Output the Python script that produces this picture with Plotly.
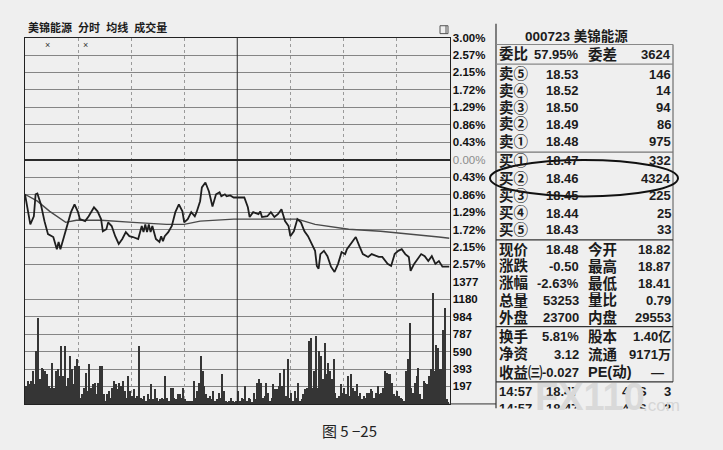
import plotly.graph_objects as go

W, H = 723, 450

# ---------------- data ----------------
HEADER = "美锦能源  分时  均线  成交量"

PRICE_MIN = [0, 3, 5, 6, 7, 9, 11, 13, 16, 18, 19, 20, 22, 24, 26, 28, 30, 31, 34, 36,
             39, 41, 43, 44, 46, 47, 49, 51, 53, 55, 57, 59, 61, 64, 66, 67, 68, 69, 70, 71,
             72, 74, 76, 77, 78, 79, 81, 83, 85, 87, 89, 90, 92, 94, 96, 97, 99, 100, 102, 104,
             106, 108, 110, 111, 113, 114, 116, 118, 120, 124, 126, 127, 129, 132, 133, 134, 137, 139, 141, 143,
             145, 147, 149, 150, 152, 154, 156, 158, 160, 162, 164, 165, 166, 167, 169, 171, 173, 175, 177, 179,
             181, 182, 184, 186, 187, 189, 191, 194, 196, 200, 202, 205, 207, 209, 211, 213, 215, 217, 218, 220,
             222, 224, 226, 228, 230, 232, 234, 236, 240]
PRICE_PCT = [-0.85, -1.59, -1.39, -0.85, -0.83, -1.10, -1.51, -1.83, -1.90, -2.20,
             -2.02, -2.20, -1.90, -1.59, -1.29, -1.10, -1.29, -1.46, -1.51, -1.39,
             -1.17, -1.27, -1.46, -1.76, -1.71, -1.54, -1.63, -1.88, -2.07, -1.95,
             -1.78, -1.88, -1.90, -1.95, -1.63, -1.78, -1.59, -1.78, -1.59, -1.78,
             -1.63, -1.95, -2.02, -1.88, -2.00, -1.88, -1.78, -1.63, -1.29, -1.10,
             -1.27, -1.54, -1.46, -1.29, -1.39, -1.29, -1.02, -0.68, -0.56, -0.78,
             -1.15, -0.85, -0.80, -0.90, -0.85, -0.90, -0.88, -0.93, -0.93, -0.93,
             -1.17, -1.41, -1.29, -1.34, -1.27, -1.41, -1.39, -1.29, -1.41, -1.34,
             -1.22, -1.51, -1.63, -1.88, -1.76, -1.46, -1.54, -1.76, -1.88, -2.07,
             -2.24, -2.61, -2.68, -2.32, -2.24, -2.37, -2.63, -2.76, -2.56, -2.27,
             -2.32, -2.20, -2.07, -1.95, -1.90, -2.12, -2.32, -2.39, -2.32, -2.39,
             -2.39, -2.56, -2.61, -2.32, -2.24, -2.20, -2.32, -2.39, -2.73, -2.56,
             -2.44, -2.32, -2.37, -2.49, -2.37, -2.56, -2.49, -2.63, -2.63]

AVG_MIN = [0, 7, 14, 23, 29, 43, 61, 80, 90, 99, 118, 127, 143, 154, 164, 183, 201, 220, 234, 240]
AVG_PCT = [-0.85, -1.02, -1.27, -1.54, -1.49, -1.49, -1.54, -1.59, -1.59, -1.51,
           -1.46, -1.46, -1.46, -1.46, -1.59, -1.71, -1.76, -1.83, -1.90, -1.93]

VOLUME = [
    205, 261, 224, 261, 373, 224, 597, 970, 280, 410,
    392, 373, 336, 205, 187, 466, 187, 373, 392, 317,
    653, 317, 653, 205, 298, 541, 392, 224, 429, 504,
    429, 75, 112, 187, 354, 149, 448, 187, 224, 242,
    112, 242, 429, 429, 112, 37, 112, 149, 75, 187,
    261, 224, 168, 242, 205, 261, 149, 75, 317, 149,
    93, 168, 75, 93, 653, 75, 56, 93, 37, 112,
    56, 224, 56, 168, 75, 37, 56, 75, 56, 317,
    75, 37, 187, 187, 75, 56, 112, 112, 75, 187,
    56, 37, 37, 37, 37, 261, 75, 149, 242, 541,
    373, 205, 112, 75, 93, 56, 149, 37, 56, 131,
    75, 336, 149, 37, 19, 37, 75, 37, 19, 37,
    149, 37, 75, 56, 205, 37, 75, 56, 19, 131,
    56, 242, 280, 242, 75, 93, 242, 131, 37, 75,
    224, 168, 168, 205, 354, 205, 392, 93, 504, 75,
    131, 37, 149, 75, 242, 37, 56, 112, 168, 187,
    709, 746, 187, 373, 765, 187, 597, 541, 280, 690,
    336, 466, 373, 280, 504, 131, 75, 93, 224, 131,
    187, 112, 317, 93, 336, 187, 149, 224, 93, 131,
    56, 93, 75, 131, 131, 168, 149, 75, 131, 205,
    112, 131, 187, 373, 354, 336, 336, 242, 112, 93,
    149, 93, 75, 56, 37, 373, 504, 914, 187, 131,
    242, 317, 410, 112, 56, 261, 242, 224, 317, 392,
    1250, 373, 671, 634, 392, 392, 840, 1080, 56, 19,
]
MINUTES = list(range(len(VOLUME)))

PCT_TICKS = [3.00, 2.57, 2.15, 1.72, 1.29, 0.86, 0.43, 0.00,
             -0.43, -0.86, -1.29, -1.72, -2.15, -2.57]
VOL_TICKS = [197, 393, 590, 787, 984, 1180, 1377]
TIME_GRID = [30, 60, 90, 150, 180, 210]
LUNCH_MIN = 120
INFO_MARK_MIN = [13, 34]

STOCK_TITLE = "000723 美锦能源"
WEIBI = ("委比", "57.95%", "委差", "3624")
ASK_LABELS = ["卖⑤", "卖④", "卖③", "卖②", "卖①"]
ASK_PRICES = ["18.53", "18.52", "18.50", "18.49", "18.48"]
ASK_VOLS = ["146", "14", "94", "86", "975"]
BID_LABELS = ["买①", "买②", "买③", "买④", "买⑤"]
BID_PRICES = ["18.47", "18.46", "18.45", "18.44", "18.43"]
BID_VOLS = ["332", "4324", "225", "25", "33"]
QUOTE_L1 = ["现价", "涨跌", "涨幅", "总量", "外盘"]
QUOTE_V1 = ["18.48", "-0.50", "-2.63%", "53253", "23700"]
QUOTE_L2 = ["今开", "最高", "最低", "量比", "内盘"]
QUOTE_V2 = ["18.82", "18.87", "18.41", "0.79", "29553"]
STAT_L1 = ["换手", "净资", "收益㈢"]
STAT_V1 = ["5.81%", "3.12", "-0.027"]
STAT_L2 = ["股本", "流通", "PE(动)"]
STAT_V2 = ["1.40亿", "9171万", "—"]
TICK_ROW = ["14:57", "18.47", "4", "S", "3"]
CAPTION = "图 5 −25"

# ---------------- geometry / style ----------------
BG = "#efefef"
INK = "#1c1c1c"
L, R = 25, 449.5
T, MID, B = 32, 279.5, 403.3
FONT = "Liberation Sans, Noto Sans CJK SC, sans-serif"
CJK = "Noto Sans CJK SC, sans-serif"


def fx(p):
    return p / W


def fy(p):
    return 1 - p / H


fig = go.Figure()

fig.add_trace(go.Bar(x=[m + 0.5 for m in MINUTES], y=VOLUME, xaxis="x2", yaxis="y2",
                     marker=dict(color="#353535", line=dict(width=0)), width=0.72,
                     hoverinfo="skip"))
fig.add_trace(go.Scatter(x=AVG_MIN, y=AVG_PCT, mode="lines",
                         line=dict(color="#4a4a4a", width=1.4), hoverinfo="skip"))
fig.add_trace(go.Scatter(x=PRICE_MIN, y=PRICE_PCT, mode="lines",
                         line=dict(color="#1e1e1e", width=1.8), hoverinfo="skip"))

pct_text = []
for v in PCT_TICKS:
    s = f"{abs(v):.2f}%"
    pct_text.append(f"<span style='color:#8c8c8c'>{s}</span>" if v == 0 else f"<b>{s}</b>")

yline = dict(showline=True, mirror=True, linecolor="#222", linewidth=1)
fig.update_layout(
    width=W, height=H, margin=dict(l=0, r=0, t=0, b=0), autosize=False,
    paper_bgcolor=BG, plot_bgcolor=BG, showlegend=False, bargap=0,
    font=dict(family=FONT, color=INK),
    xaxis=dict(domain=[fx(L), fx(R)], range=[0, 240], anchor="y", side="top",
               tickvals=TIME_GRID, showticklabels=False, ticks="", showgrid=True,
               gridcolor="#9a9a9a", griddash="dot", zeroline=False,
               showline=True, mirror=False, linecolor="#222", linewidth=1),
    xaxis2=dict(domain=[fx(L), fx(R)], range=[0, 240], anchor="y2", matches="x",
                tickvals=TIME_GRID, showticklabels=False, ticks="", showgrid=True,
                gridcolor="#9a9a9a", griddash="dot", zeroline=False,
                showline=True, mirror=False, linecolor="#222", linewidth=1),
    yaxis=dict(domain=[fy(MID), fy(T)], range=[-3, 3], side="right", anchor="x",
               tickvals=PCT_TICKS, ticktext=pct_text, ticks="",
               tickfont=dict(family=FONT, size=11.5, color="#111"),
               showgrid=True, gridcolor="#858585", gridwidth=1,
               zeroline=True, zerolinecolor="#2a2a2a", zerolinewidth=2, **yline),
    yaxis2=dict(domain=[fy(B), fy(MID)], range=[0, 1377], side="right", anchor="x2",
                tickvals=VOL_TICKS, ticktext=[f"<b>{v}</b>" for v in VOL_TICKS], ticks="",
                tickfont=dict(family=FONT, size=11.5, color="#111"),
                showgrid=True, gridcolor="#858585", gridwidth=1, zeroline=False, **yline),
)

shapes = []
# lunch break solid line
shapes.append(dict(type="line", xref="x", yref="paper", x0=LUNCH_MIN, x1=LUNCH_MIN,
                   y0=fy(B), y1=fy(T), line=dict(color="#2a2a2a", width=1)))
# bottom line extension under labels
shapes.append(dict(type="line", xref="paper", yref="paper", x0=fx(R), x1=fx(496),
                   y0=fy(B), y1=fy(B), line=dict(color="#333", width=1)))
# little icon top right
shapes.append(dict(type="rect", xref="paper", yref="paper", x0=fx(440), x1=fx(448),
                   y0=fy(28), y1=fy(20), line=dict(color="#555", width=1)))
shapes.append(dict(type="line", xref="paper", yref="paper", x0=fx(446), x1=fx(446),
                   y0=fy(28), y1=fy(20), line=dict(color="#555", width=1)))
# right panel frame
PL, PR = 496, 673
shapes.append(dict(type="line", xref="paper", yref="paper", x0=fx(PL), x1=fx(PL),
                   y0=fy(408), y1=fy(18), line=dict(color="#333", width=1.2)))
shapes.append(dict(type="line", xref="paper", yref="paper", x0=fx(PR), x1=fx(PR),
                   y0=fy(381), y1=fy(39), line=dict(color="#555", width=1)))
for yy, col in [(39, "#888"), (59, "#888"), (148, "#777"), (237, "#333"), (325, "#333"), (381, "#333")]:
    shapes.append(dict(type="line", xref="paper", yref="paper", x0=fx(PL), x1=fx(PR),
                       y0=fy(yy), y1=fy(yy), line=dict(color=col, width=1.2)))
# hand-drawn ellipse around 买②
shapes.append(dict(type="circle", xref="paper", yref="paper", x0=fx(490), x1=fx(678),
                   y0=fy(193), y1=fy(156), line=dict(color="#111", width=2)))
fig.update_layout(shapes=shapes)

ann = []


def text(x, y, s, anchor="left", size=13, bold=True, color=INK, family=FONT, **kw):
    ann.append(dict(xref="paper", yref="paper", x=fx(x), y=fy(y),
                    text=f"<b>{s}</b>" if bold else s, showarrow=False,
                    xanchor=anchor, yanchor="middle",
                    font=dict(size=size, color=color, family=family), **kw))


text(26, 22, HEADER, size=11)
for m in INFO_MARK_MIN:
    ann.append(dict(xref="x", yref="paper", x=m, y=fy(40), text="×", showarrow=False,
                    font=dict(size=9, color="#333"), yanchor="middle"))

text(576, 30, STOCK_TITLE, anchor="center", size=13.5)
C1L, C1R, C2L, C2R = 497, 581, 586, 673
LAB = 14.5
text(C1L, 49, WEIBI[0], size=LAB)
text(C1R, 49, WEIBI[1], anchor="right")
text(C2L, 49, WEIBI[2], size=LAB)
text(C2R, 49, WEIBI[3], anchor="right")

ask_y = [69, 86, 103, 120, 137.5]
for lab, p, v, yy in zip(ASK_LABELS, ASK_PRICES, ASK_VOLS, ask_y):
    text(C1L, yy, lab, size=LAB)
    text(C1R, yy, p, anchor="right")
    text(C2R, yy, v, anchor="right")
bid_y = [157, 175, 192.5, 210, 227]
for lab, p, v, yy in zip(BID_LABELS, BID_PRICES, BID_VOLS, bid_y):
    text(C1L, yy, lab, size=LAB)
    text(C1R, yy, p, anchor="right")
    text(C2R, yy, v, anchor="right")
quote_y = [247, 264, 281, 298, 316]
for a, b, c, d, yy in zip(QUOTE_L1, QUOTE_V1, QUOTE_L2, QUOTE_V2, quote_y):
    text(C1L, yy, a, size=LAB)
    text(C1R, yy, b, anchor="right")
    text(C2L, yy, c, size=LAB)
    text(C2R, yy, d, anchor="right")
stat_y = [335, 353, 371]
for a, b, c, d, yy in zip(STAT_L1, STAT_V1, STAT_L2, STAT_V2, stat_y):
    text(C1L, yy, a, size=LAB)
    text(C1R, yy, b, anchor="right")
    text(C2L, yy, c, size=LAB)
    text(C2R - (7 if d == "—" else 0), yy, d, anchor="right")

# time & sales rows
for yy in (391, 408):
    text(C1L, yy, TICK_ROW[0])
    text(C1R, yy, TICK_ROW[1], anchor="right")
    text(632, yy, TICK_ROW[2], anchor="right")
    text(649, yy, TICK_ROW[3], anchor="right")
    text(C2R, yy, TICK_ROW[4], anchor="right")
# cover the lower (cut-off) part of the second row
ann.append(dict(xref="paper", yref="paper", x=fx(490), y=fy(407), xanchor="left",
                yanchor="top", text=" ", showarrow=False, width=200, height=30,
                bgcolor=BG, font=dict(size=10)))
# watermark
text(590, 396, "FX110", anchor="center", size=38, color="#d9d9d9", family="Liberation Sans")
text(661, 405, ".com", anchor="center", size=17, bold=False, color="#d6d6d6",
     family="Liberation Sans")
# caption
text(349, 430, CAPTION, anchor="center", size=15, bold=False, color="#222", family=CJK)

fig.update_layout(annotations=ann)

fig.write_html("out.html", config={"displayModeBar": False},
               post_script="document.body.style.margin='0px';"
                           "document.body.style.background='" + BG + "';"
                           "document.body.style.overflow='hidden';")
